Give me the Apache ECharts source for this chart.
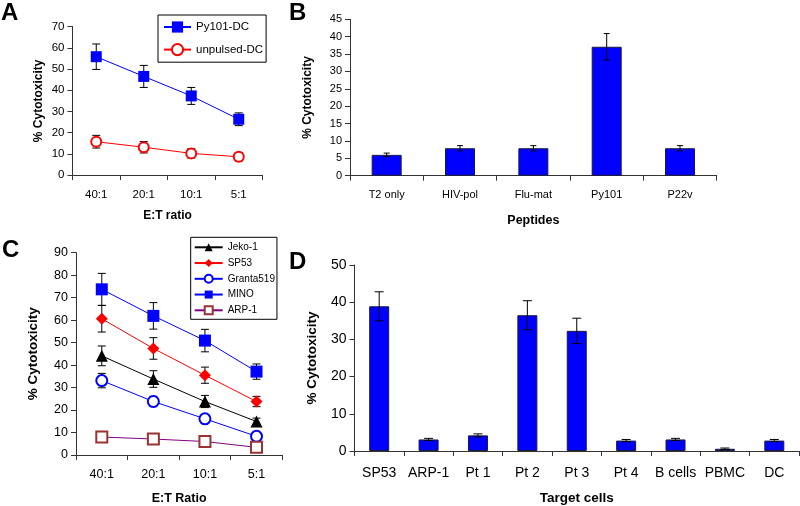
<!DOCTYPE html>
<html><head><meta charset="utf-8">
<script src="https://cdn.jsdelivr.net/npm/echarts@6/dist/echarts.min.js"></script>
<style>html,body{margin:0;padding:0;background:#fff}#c{width:800px;height:506px}</style>
</head><body><div id="c"></div>
<script>
// Panel A
const aCats = ['40:1', '20:1', '10:1', '5:1'];
const aPy101 = [55.8, 46.5, 37.3, 26.3];
const aPy101Err = [6.0, 5.2, 4.0, 3.0];
const aUnpulsed = [15.7, 13.1, 10.2, 8.6];
const aUnpulsedErr = [3.0, 2.7, 2.2, 2.0];
// Panel B
const bCats = ['T2 only', 'HIV-pol', 'Flu-mat', 'Py101', 'P22v'];
const bVals = [6.0, 7.9, 7.9, 37.1, 7.9];
const bErr = [0.5, 0.75, 0.75, 3.8, 0.75];
// Panel C
const cCats = ['40:1', '20:1', '10:1', '5:1'];
const cJeko = [44.1, 33.8, 23.8, 14.9];
const cJekoErr = [4.4, 3.7, 2.7, 1.5];
const cSP53 = [60.6, 47.4, 35.5, 23.8];
const cSP53Err = [5.9, 4.8, 3.6, 2.3];
const cGranta = [33.1, 23.8, 16.1, 8.3];
const cGrantaErr = [3.2, 2.3, 1.0, 0.8];
const cMINO = [73.7, 61.9, 50.9, 37.1];
const cMINOErr = [7.1, 5.9, 5.0, 3.4];
const cARP = [8.0, 7.1, 6.0, 3.4];
const cARPErr = [0.5, 0.5, 0.5, 0.4];
// Panel D
const dCats = ['SP53', 'ARP-1', 'Pt 1', 'Pt 2', 'Pt 3', 'Pt 4', 'B cells', 'PBMC', 'DC'];
const dVals = [38.9, 3.1, 4.2, 36.5, 32.3, 2.8, 3.1, 0.6, 2.8];
const dErr = [3.9, 0.3, 0.4, 3.9, 3.4, 0.3, 0.3, 0.2, 0.3];

const FONT = 'Liberation Sans, Arial, sans-serif';
const AX = '#333';

function errData(vals, errs) {
  return vals.map((v, i) => [i, v - errs[i], v + errs[i]]);
}
function errSeries(idx, vals, errs, half, z) {
  return {
    type: 'custom', xAxisIndex: idx, yAxisIndex: idx, z: z, silent: true,
    encode: { x: 0, y: [1, 2] },
    data: errData(vals, errs),
    renderItem: function (params, api) {
      const lo = api.coord([api.value(0), api.value(1)]);
      const hi = api.coord([api.value(0), api.value(2)]);
      const st = { stroke: '#000', lineWidth: 1 };
      return {
        type: 'group',
        children: [
          { type: 'line', shape: { x1: lo[0], y1: lo[1], x2: hi[0], y2: hi[1] }, style: st },
          { type: 'line', shape: { x1: lo[0] - half, y1: lo[1], x2: lo[0] + half, y2: lo[1] }, style: st },
          { type: 'line', shape: { x1: hi[0] - half, y1: hi[1], x2: hi[0] + half, y2: hi[1] }, style: st }
        ]
      };
    }
  };
}
function xAx(idx, cats, fs, margin, name, nameGap, nameFs) {
  return {
    type: 'category', gridIndex: idx, data: cats,
    axisLine: { lineStyle: { color: AX, width: 1 } },
    axisTick: { show: true, length: 5, interval: 0, lineStyle: { color: AX } },
    axisLabel: { color: '#000', fontSize: fs, fontFamily: FONT, margin: margin, interval: 0 },
    name: name, nameLocation: 'middle', nameGap: nameGap,
    nameTextStyle: { color: '#000', fontWeight: 'bold', fontSize: nameFs, fontFamily: FONT }
  };
}
function yAx(idx, max, interval, fs, nameGap, nameFs) {
  return {
    type: 'value', gridIndex: idx, min: 0, max: max, interval: interval,
    splitLine: { show: false },
    axisLine: { show: true, lineStyle: { color: AX, width: 1 } },
    axisTick: { show: true, length: 5, lineStyle: { color: AX } },
    axisLabel: { color: '#000', fontSize: fs, fontFamily: FONT, margin: 8 },
    name: '% Cytotoxicity', nameLocation: 'middle', nameRotate: 90, nameGap: nameGap,
    nameTextStyle: { color: '#000', fontWeight: 'bold', fontSize: nameFs, fontFamily: FONT }
  };
}

const option = {
  animation: false,
  backgroundColor: '#fff',
  grid: [
    { left: 72.5, top: 26.6, width: 190, height: 148.4 },
    { left: 350, top: 19.3, width: 366.7, height: 156.4 },
    { left: 76, top: 252.7, width: 206.3, height: 202.6 },
    { left: 354.5, top: 265, width: 444.5, height: 186.7 }
  ],
  xAxis: [
    xAx(0, aCats, 11.5, 14, 'E:T ratio', 35, 12),
    xAx(1, bCats, 11, 14, 'Peptides', 38, 12.5),
    xAx(2, cCats, 12.5, 13, 'E:T Ratio', 37, 12.5),
    xAx(3, dCats, 14, 15, 'Target cells', 40, 13.5)
  ],
  yAxis: [
    yAx(0, 70, 10, 11.5, 28, 12),
    yAx(1, 45, 5, 11, 36, 12),
    yAx(2, 90, 10, 12.5, 36, 13.5),
    yAx(3, 50, 10, 14, 35, 13.5)
  ],
  legend: [
    {
      orient: 'vertical', left: 158, top: 15, padding: [6, 3, 6, 5],
      itemWidth: 27, itemHeight: 14, itemGap: 10,
      borderColor: '#000', borderWidth: 1,
      textStyle: { color: '#000', fontSize: 11.5, fontFamily: FONT },
      data: ['Py101-DC', 'unpulsed-DC']
    },
    {
      orient: 'vertical', left: 190.7, top: 237.3, padding: [5, 2, 4, 3],
      itemWidth: 28, itemHeight: 10, itemGap: 5.75,
      borderColor: '#000', borderWidth: 1,
      textStyle: { color: '#000', fontSize: 10, fontFamily: FONT },
      data: ['Jeko-1', 'SP53', 'Granta519', 'MINO', 'ARP-1']
    }
  ],
  graphic: [
    { type: 'text', left: 1, top: 1, style: { text: 'A', font: 'bold 24px ' + FONT, fill: '#000' } },
    { type: 'text', left: 289, top: 1, style: { text: 'B', font: 'bold 24px ' + FONT, fill: '#000' } },
    { type: 'text', left: 2, top: 238, style: { text: 'C', font: 'bold 24px ' + FONT, fill: '#000' } },
    { type: 'text', left: 289, top: 250, style: { text: 'D', font: 'bold 24px ' + FONT, fill: '#000' } }
  ],
  series: [
    errSeries(0, aPy101, aPy101Err, 4, 1),
    errSeries(0, aUnpulsed, aUnpulsedErr, 4, 1),
    { name: 'Py101-DC', type: 'line', xAxisIndex: 0, yAxisIndex: 0, z: 3, data: aPy101,
      symbol: 'rect', symbolSize: 11, itemStyle: { color: '#0000ff' },
      lineStyle: { color: '#0000ff', width: 1 } },
    { name: 'unpulsed-DC', type: 'line', xAxisIndex: 0, yAxisIndex: 0, z: 3, data: aUnpulsed,
      symbol: 'emptyCircle', symbolSize: 10, itemStyle: { color: '#ff0000', borderWidth: 1.3 },
      lineStyle: { color: '#ff0000', width: 1 } },

    { type: 'bar', xAxisIndex: 1, yAxisIndex: 1, z: 2, data: bVals, barWidth: 30,
      itemStyle: { color: '#0000ff', borderColor: '#1a1a40', borderWidth: 1 } },
    errSeries(1, bVals, bErr, 3, 3),

    errSeries(2, cJeko, cJekoErr, 4, 1),
    errSeries(2, cSP53, cSP53Err, 4, 1),
    errSeries(2, cGranta, cGrantaErr, 4, 1),
    errSeries(2, cMINO, cMINOErr, 4, 1),
    errSeries(2, cARP, cARPErr, 4, 1),
    { name: 'Jeko-1', type: 'line', xAxisIndex: 2, yAxisIndex: 2, z: 3, data: cJeko,
      symbol: 'triangle', symbolSize: 12, itemStyle: { color: '#000' },
      lineStyle: { color: '#000', width: 1 } },
    { name: 'SP53', type: 'line', xAxisIndex: 2, yAxisIndex: 2, z: 3, data: cSP53,
      symbol: 'diamond', symbolSize: 12, itemStyle: { color: '#ff0000' },
      lineStyle: { color: '#ff0000', width: 1 } },
    { name: 'Granta519', type: 'line', xAxisIndex: 2, yAxisIndex: 2, z: 3, data: cGranta,
      symbol: 'emptyCircle', symbolSize: 11, itemStyle: { color: '#0000ff', borderWidth: 1.3 },
      lineStyle: { color: '#0000ff', width: 1 } },
    { name: 'MINO', type: 'line', xAxisIndex: 2, yAxisIndex: 2, z: 3, data: cMINO,
      symbol: 'rect', symbolSize: 12, itemStyle: { color: '#0000ff' },
      lineStyle: { color: '#0000ff', width: 1 } },
    { name: 'ARP-1', type: 'line', xAxisIndex: 2, yAxisIndex: 2, z: 3, data: cARP,
      symbol: 'emptyRect', symbolSize: 11, itemStyle: { color: '#993333', borderWidth: 1.3 },
      lineStyle: { color: '#800080', width: 1 } },

    { type: 'bar', xAxisIndex: 3, yAxisIndex: 3, z: 2, data: dVals, barWidth: 20,
      itemStyle: { color: '#0000ff', borderColor: '#1a1a40', borderWidth: 1 } },
    errSeries(3, dVals, dErr, 4.5, 3)
  ]
};
const chart = echarts.init(document.getElementById('c'), null, { renderer: 'canvas' });
chart.setOption(option);
</script>
</body></html>
